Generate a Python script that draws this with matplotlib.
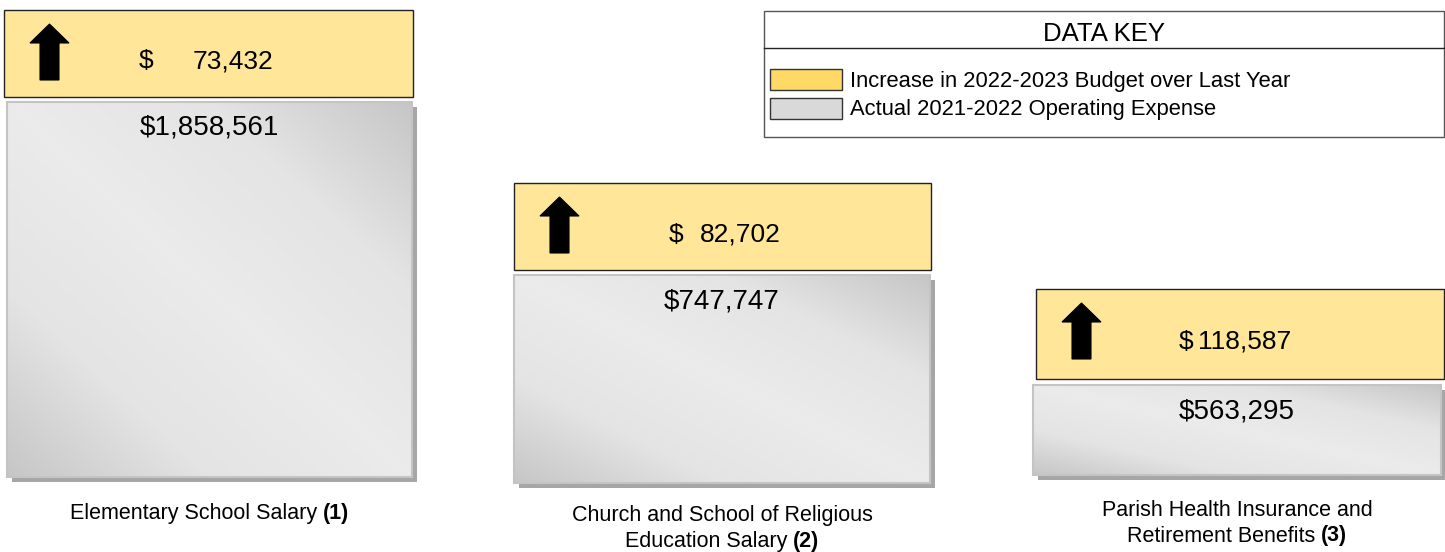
import numpy as np
import matplotlib.pyplot as plt
from matplotlib.patches import Rectangle, Polygon
from matplotlib.colors import LinearSegmentedColormap

plt.rcParams['font.family'] = ['Liberation Sans', 'DejaVu Sans']

# --- data ---------------------------------------------------------------
categories = ["Elementary School Salary",
              "Church and School of Religious\nEducation Salary",
              "Parish Health Insurance and\nRetirement Benefits"]
notes = ["(1)", "(2)", "(3)"]
actual = [1858561, 747747, 563295]
increase = [73432, 82702, 118587]
key_labels = ["Increase in 2022-2023 Budget over Last Year",
              "Actual 2021-2022 Operating Expense"]

# --- layout (pixels, figure is 1445 x 552) ------------------------------
# yellow box: left, right, top, bottom ; gray box: left, right, top, bottom
yellow_boxes = [(4, 413, 10, 97), (514, 931, 183, 270), (1036, 1444, 289, 379)]
gray_boxes = [(7, 412, 102, 477), (514, 930, 275, 483), (1033, 1441, 385, 475)]
dollar_x = [139, 669, 1179]
number_x = [273, 781, 1291]
label_y = [513, 529, 523]

YELLOW = '#FFE699'
cmap = LinearSegmentedColormap.from_list('g', ['#ebebeb', '#e4e4e4', '#c6c6c6'])

fig = plt.figure(figsize=(14.45, 5.52), dpi=100)
ax = fig.add_axes([0, 0, 1, 1])
ax.set_xlim(0, 1445)
ax.set_ylim(552, 0)
ax.axis('off')


def gray_box(x0, x1, y0, y1):
    # drop shadow
    ax.add_patch(Rectangle((x0 + 5, y0 + 5), x1 - x0, y1 - y0, facecolor='#a6a6a6',
                           edgecolor='none', zorder=1))
    w, h = int(x1 - x0), int(y1 - y0)
    xx, yy = np.meshgrid(np.linspace(0, 1, w), np.linspace(0, 1, h))
    u = (xx + (1 - yy)) / 2
    v = np.abs(u - 0.5) * 2
    ax.imshow(v, cmap=cmap, extent=(x0, x1, y1, y0), origin='upper',
              aspect='auto', zorder=2, vmin=0, vmax=1)
    ax.add_patch(Rectangle((x0, y0), x1 - x0, y1 - y0, facecolor='none',
                           edgecolor='#c4c4c4', lw=1.5, zorder=3))


def up_arrow(x0, y0):
    pts = [(x0 + 19.5, y0), (x0 + 39, y0 + 19), (x0 + 29, y0 + 19), (x0 + 29, y0 + 56),
           (x0 + 10, y0 + 56), (x0 + 10, y0 + 19), (x0, y0 + 19)]
    ax.add_patch(Polygon(pts, closed=True, facecolor='black', edgecolor='black',
                         lw=0.8, zorder=5))


fig.canvas.draw()
renderer = fig.canvas.get_renderer()

for i in range(len(categories)):
    x0, x1, y0, y1 = yellow_boxes[i]
    ax.add_patch(Rectangle((x0, y0), x1 - x0, y1 - y0, facecolor=YELLOW,
                           edgecolor='#222222', lw=1, zorder=3))
    up_arrow(x0 + 26, y0 + 14)
    ym = (y0 + y1) / 2 + 8
    ax.text(dollar_x[i], ym, "$", ha='left', va='center', fontsize=19, zorder=6)
    ax.text(number_x[i], ym, f"{increase[i]:,}", ha='right', va='center', fontsize=19, zorder=6)

    gx0, gx1, gy0, gy1 = gray_boxes[i]
    gray_box(gx0, gx1, gy0, gy1)
    ax.text((gx0 + gx1) / 2, gy0 + 26, f"${actual[i]:,}", ha='center', va='center',
            fontsize=20, zorder=6)

    # category label with bold note on the last line
    cx = (gx0 + gx1) / 2
    lines = categories[i].split('\n')
    ly = label_y[i] - 13 * (len(lines) - 1)
    for ln in lines[:-1]:
        ax.text(cx, ly, ln, ha='center', va='center', fontsize=15.5)
        ly += 26
    t1 = ax.text(cx, ly, lines[-1] + " ", ha='left', va='center', fontsize=15.5)
    t2 = ax.text(cx, ly, notes[i], ha='left', va='center', fontsize=15.5, fontweight='bold')
    w1 = t1.get_window_extent(renderer).width
    w2 = t2.get_window_extent(renderer).width
    start = cx - (w1 + w2) / 2
    t1.set_x(start)
    t2.set_x(start + w1)

# --- data key --------------------------------------------------------------
ax.add_patch(Rectangle((764, 11), 680, 126, facecolor='white', edgecolor='#555555',
                       lw=1, zorder=3))
ax.plot([764, 1444], [48, 48], color='#222222', lw=1, zorder=4)
ax.text(1104, 34, "DATA KEY", ha='center', va='center', fontsize=18.5, zorder=5)
key_colors = ['#FFD966', '#D9D9D9']
for j, (lab, col) in enumerate(zip(key_labels, key_colors)):
    yy = 69 + j * 29
    ax.add_patch(Rectangle((770, yy), 72, 21, facecolor=col, edgecolor='#333333',
                           lw=1, zorder=5))
    ax.text(850, yy + 12, lab, ha='left', va='center', fontsize=15.8, zorder=5)

fig.savefig('out.png', dpi=100)
